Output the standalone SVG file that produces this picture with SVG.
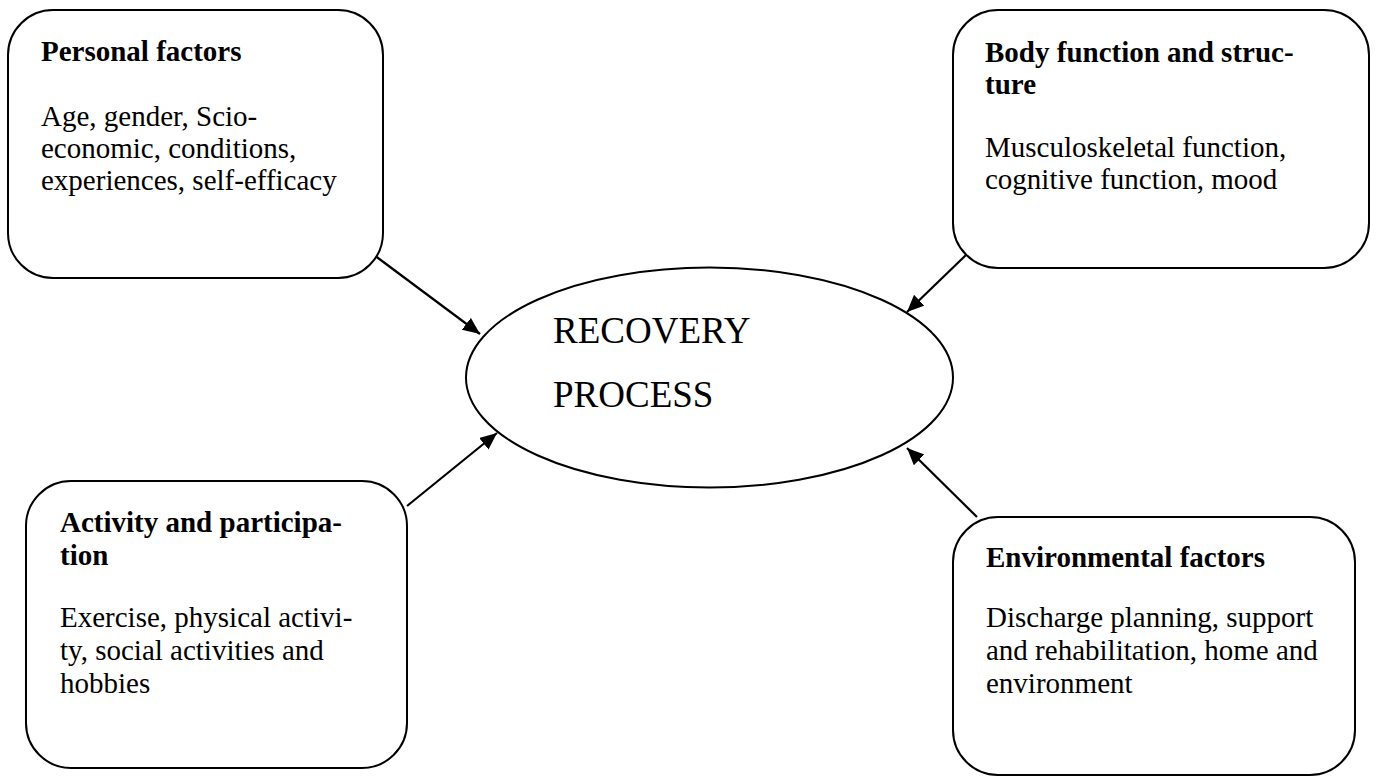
<svg xmlns="http://www.w3.org/2000/svg" width="1376" height="776" viewBox="0 0 1376 776">
  <style>
    .box { fill: #ffffff; stroke: #000000; stroke-width: 2; }
    .hub { fill: #ffffff; stroke: #000000; stroke-width: 2; }
    .title { font-family: "Liberation Serif", "Times New Roman", serif; font-size: 29px; font-weight: bold; fill: #000000; }
    .body { font-family: "Liberation Serif", "Times New Roman", serif; font-size: 29px; fill: #000000; }
    .hubtext { font-family: "Liberation Serif", "Times New Roman", serif; font-size: 37px; fill: #000000; }
    .link { stroke: #000000; stroke-width: 2.2; fill: none; marker-end: url(#arrow); }
  </style>
  <defs>
    <marker id="arrow" markerUnits="userSpaceOnUse" markerWidth="18" markerHeight="16" refX="17" refY="7.5" orient="auto">
      <path d="M0,0 L17,7.5 L0,15 Z" fill="#000000"/>
    </marker>
  </defs>

  <rect width="1376" height="776" fill="#ffffff"/>

  <!-- connectors: each factor feeds the recovery process -->
  <g id="connectors">
    <line class="link" x1="374" y1="255" x2="480" y2="334"/>
    <line class="link" x1="966" y1="255" x2="907" y2="312"/>
    <line class="link" x1="407" y1="506" x2="497" y2="433"/>
    <line class="link" x1="977" y1="517" x2="907" y2="448"/>
  </g>

  <g id="recovery-process">
    <ellipse class="hub" cx="709.5" cy="377.5" rx="243.5" ry="110"/>
    <text class="hubtext" x="553" y="343">RECOVERY</text>
    <text class="hubtext" x="553" y="407">PROCESS</text>
  </g>

  <g id="personal-factors">
    <rect class="box" x="8" y="10" width="375" height="268" rx="45" ry="45"/>
    <text class="title" x="41" y="61">Personal factors</text>
    <text class="body" x="41" y="126">Age, gender, Scio-</text>
    <text class="body" x="41" y="158">economic, conditions,</text>
    <text class="body" x="41" y="190">experiences, self-efficacy</text>
  </g>

  <g id="body-function">
    <rect class="box" x="953" y="10" width="416" height="258" rx="45" ry="45"/>
    <text class="title" x="985" y="62">Body function and struc-</text>
    <text class="title" x="985" y="94">ture</text>
    <text class="body" x="985" y="157">Musculoskeletal function,</text>
    <text class="body" x="985" y="189">cognitive function, mood</text>
  </g>

  <g id="activity-participation">
    <rect class="box" x="26" y="481" width="381" height="287" rx="45" ry="45"/>
    <text class="title" x="60" y="532">Activity and participa-</text>
    <text class="title" x="60" y="565">tion</text>
    <text class="body" x="60" y="627">Exercise, physical activi-</text>
    <text class="body" x="60" y="660">ty, social activities and</text>
    <text class="body" x="60" y="693">hobbies</text>
  </g>

  <g id="environmental-factors">
    <rect class="box" x="953" y="517" width="402" height="258" rx="45" ry="45"/>
    <text class="title" x="986" y="567">Environmental factors</text>
    <text class="body" x="986" y="627">Discharge planning, support</text>
    <text class="body" x="986" y="660">and rehabilitation, home and</text>
    <text class="body" x="986" y="693">environment</text>
  </g>
</svg>
